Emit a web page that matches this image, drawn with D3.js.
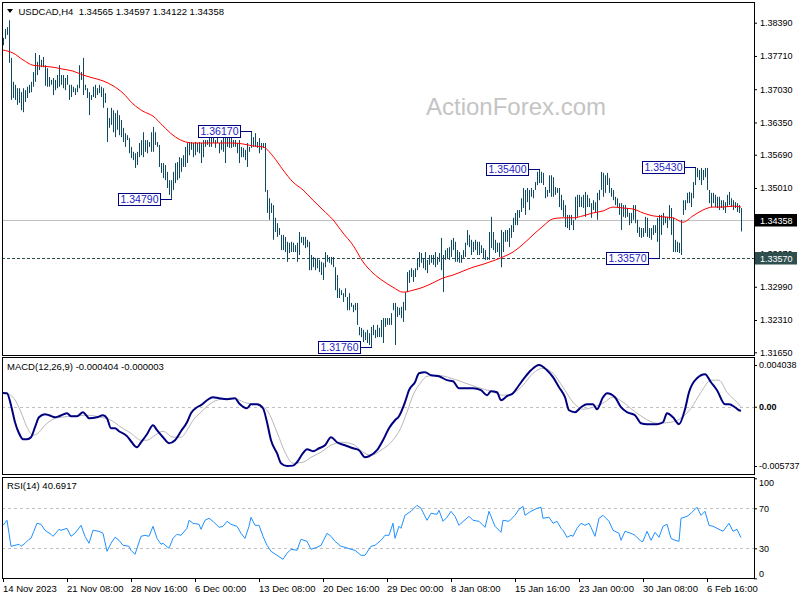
<!DOCTYPE html>
<html><head><meta charset="utf-8">
<script src="https://cdn.jsdelivr.net/npm/d3@7/dist/d3.min.js"></script>
<style>body{margin:0;background:#fff}svg{display:block}text{font-family:"Liberation Sans",Arial,sans-serif}</style>
</head><body><svg id="c" width="800" height="600"></svg>
<script>
// ---------------- data ----------------
const symbolTitle = "USDCAD,H4";
const lastOHLC = ["1.34565", "1.34597", "1.34122", "1.34358"];
const pipBase = 1.3; // bar prices stored as pips above 1.30000
// H4 bar highs / lows, one per bar from 14 Nov 2023 00:00
const highPips = [
808,826,830,844,767,718,712,705,705,697,
705,701,708,712,718,738,777,759,773,763,
769,752,746,728,722,726,722,732,752,732,
732,726,732,712,712,708,705,712,752,738,
767,712,705,697,691,708,712,705,712,708,
705,695,665,644,665,660,654,660,650,640,
624,613,609,603,585,575,572,575,593,599,
615,599,599,595,615,626,615,595,589,552,
552,548,534,517,517,534,552,554,564,562,
568,585,593,595,595,593,595,593,595,593,
599,599,599,609,613,615,599,609,593,599,
605,615,605,605,613,599,599,593,599,585,
583,579,593,585,617,605,613,595,603,593,
593,593,497,480,470,466,440,429,419,405,
405,401,391,389,391,389,384,389,411,401,
401,401,395,391,364,360,358,358,354,350,
348,370,364,360,360,360,339,323,296,292,
286,296,278,286,266,262,266,266,217,215,
211,206,211,204,217,221,211,221,215,231,
235,235,235,235,245,266,266,258,256,258,
268,288,329,333,337,333,337,358,370,368,
358,370,354,364,364,364,370,360,368,399,
364,374,378,380,395,399,391,374,370,364,
374,389,415,405,395,391,395,391,391,384,
378,374,360,411,442,411,395,389,389,415,
411,415,415,419,425,440,450,456,456,480,
501,497,501,497,501,497,513,534,540,534,
532,503,497,527,527,523,503,501,501,487,
476,466,446,446,446,436,483,487,487,483,
487,493,487,480,470,476,472,491,497,534,
532,527,532,521,501,497,483,480,470,470,
466,466,460,450,450,466,466,436,421,419,
419,442,440,419,419,425,425,440,446,446,
450,442,442,466,460,440,395,391,389,436,
476,476,491,493,491,513,543,542,538,542,
538,542,542,497,491,491,487,483,483,476,
476,472,487,493,480,476,472,470,466,460];
const lowPips = [
793,806,814,757,681,685,681,671,675,660,
656,677,685,695,697,708,718,732,742,748,
748,710,708,708,712,691,701,705,708,712,
705,701,712,681,687,697,691,697,705,722,
691,701,685,650,681,687,685,691,695,687,
665,675,595,624,630,615,605,620,609,605,
595,585,599,572,562,558,542,548,564,568,
564,575,572,585,575,575,589,585,544,532,
521,517,501,487,479,497,511,517,521,534,
544,544,552,568,579,564,568,575,572,552,
564,585,589,585,585,593,583,593,572,579,
575,552,585,583,583,585,585,572,552,564,
564,558,544,575,583,585,585,583,572,579,
583,493,450,436,450,395,411,401,405,374,
374,370,350,368,370,370,370,350,364,389,
384,378,380,333,333,339,333,337,329,323,
313,339,350,348,344,339,292,276,276,282,
268,278,251,251,258,247,251,221,200,196,
186,190,184,180,176,200,194,196,196,196,
184,217,221,221,221,251,180,237,241,235,
227,251,288,307,319,309,319,333,339,348,
337,333,327,344,348,344,339,344,350,333,
288,354,358,354,360,374,350,350,348,348,
358,360,384,380,364,370,374,364,364,368,
358,354,354,354,378,374,368,370,360,339,
370,391,391,380,399,411,425,425,440,452,
460,446,472,456,483,480,497,507,511,511,
507,480,483,491,483,483,487,491,462,456,
442,421,419,415,425,415,436,442,462,462,
460,442,462,462,440,456,450,436,476,497,
483,491,507,491,483,476,466,462,446,415,
442,440,442,425,429,436,429,409,401,399,
401,409,401,399,395,405,409,391,357,405,
425,429,419,436,405,370,370,370,368,364,
446,456,470,470,462,480,507,523,517,507,
517,523,497,470,462,470,462,460,456,460,
456,450,462,466,462,456,460,452,450,412];
// moving average (red), pips above 1.30000
const maBars = [0,5,10,15,20,25,30,35,40,45,50,55,60,65,70,75,80,85,90,95,100,105,110,115,120,125,130,135,140,145,150,155,160,165,170,175,180,185,190,195,200,205,210,215,220,225,230,235,240,245,250,255,260,265,270,275,280,285,290,295,300,305,310,315,320,325,330,335,340,345,350,355,360,365,369];
const maPips = [
783,777,763,752,750,748,744,740,732,726,
720,710,695,673,658,648,628,609,597,593,
593,593,593,593,591,587,585,566,538,513,
497,476,456,436,409,384,350,327,311,298,
288,292,298,307,317,323,331,339,345,352,
360,370,386,405,423,438,440,440,444,450,
454,462,460,458,450,444,442,440,431,444,
456,462,462,464,462];
// MACD(12,26,9) main line
const macdBars = [0,2,4,6,8,10,12,14,16,18,21,23,26,28,32,34,37,40,42,43,47,50,52,54,56,58,62,64,67,69,72,75,77,80,83,86,89,92,94,97,99,102,105,108,112,116,118,122,124,127,130,132,134,137,139,142,145,147,150,152,155,158,161,164,167,171,175,178,181,183,187,190,193,196,198,201,203,206,208,211,214,218,222,225,228,232,235,239,242,244,247,249,252,255,258,261,264,268,272,275,278,281,283,286,289,292,295,297,300,302,306,309,312,316,319,322,327,330,332,335,338,341,343,347,351,354,357,361,363,366,368,369];
const macdMain = [
0.00134,0.00131,0.00015,-0.0015,-0.00257,-0.00315,-0.00315,-0.00295,-0.00198,-0.00102,
-0.00073,-0.00082,-0.00102,-0.00092,-0.00063,-0.00092,-0.00092,-0.00053,-0.00092,-0.00111,
-0.00102,-0.00082,-0.00111,-0.00208,-0.00208,-0.00237,-0.00285,-0.00334,-0.00392,-0.00344,
-0.00266,-0.00179,-0.00227,-0.00295,-0.00353,-0.00324,-0.00237,-0.0015,-0.00063,-0.00005,
0.00015,0.00063,0.00092,0.00082,0.00073,0.00082,0.00034,-0.00015,0.00024,0.00024,
-0.00015,-0.0015,-0.00324,-0.0045,-0.00547,-0.00574,-0.0057,-0.00537,-0.0045,-0.00411,
-0.00431,-0.00402,-0.00373,-0.00295,-0.00344,-0.00373,-0.00402,-0.00421,-0.00489,-0.00479,
-0.00421,-0.00324,-0.00208,-0.00131,-0.00092,0.00044,0.0016,0.00237,0.00324,0.00334,
0.00305,0.00295,0.00257,0.00247,0.00179,0.00179,0.00179,0.0016,0.00111,0.0015,
0.0014,0.00063,0.00102,0.00131,0.00208,0.00286,0.00353,0.00404,0.00353,0.00286,
0.00189,0.00092,-0.00034,-0.00053,-0.00005,0.00024,0.00024,-0.00024,0.00092,0.00131,
0.00092,-0.00005,-0.00053,-0.00082,-0.0016,-0.00169,-0.00169,-0.0015,-0.00063,-0.00102,
-0.00169,-0.00024,0.0014,0.00276,0.00315,0.00237,0.0016,0.00024,0.00024,-0.00005,
-0.00034,-0.000404];
// MACD signal line
const signalBars = [0,5,9,12,15,18,21,25,29,35,42,49,54,59,64,69,72,76,80,85,89,92,95,99,104,109,115,122,127,132,137,141,145,150,154,159,164,169,175,180,184,189,194,199,202,205,209,212,217,224,230,237,244,250,255,260,265,270,275,280,285,290,295,300,305,310,315,320,327,334,339,344,349,354,358,362,367,369];
const macdSignal = [
0.0014,0.00092,-0.00053,-0.00198,-0.00276,-0.00247,-0.00179,-0.00121,-0.00102,-0.00092,
-0.00082,-0.00102,-0.00131,-0.00198,-0.00257,-0.00324,-0.00324,-0.00276,-0.00237,-0.00295,
-0.00295,-0.00227,-0.00131,-0.00053,0.00034,0.00073,0.00082,0.00034,0.00024,-0.00034,
-0.00247,-0.0044,-0.00547,-0.00537,-0.00489,-0.0044,-0.00373,-0.00344,-0.00363,-0.0044,
-0.0047,-0.00421,-0.00344,-0.002,-0.00053,0.00111,0.00237,0.00295,0.00305,0.00276,
0.00237,0.00189,0.0015,0.00111,0.00131,0.00208,0.00324,0.00373,0.00324,0.00189,
0.00044,-0.00024,-0.00005,0.00034,0.00092,0.00044,-0.00034,-0.00102,-0.0016,-0.0015,
-0.00111,-0.00015,0.0014,0.00257,0.00257,0.0014,0.00044,-0.000003];
// RSI(14)
const rsiBars = [0,2,3,4,6,8,9,11,13,14,17,19,21,24,25,28,29,32,34,36,39,41,43,45,48,50,52,54,56,58,60,63,64,66,69,71,73,75,77,79,80,83,85,87,89,92,93,95,98,99,101,103,105,108,110,112,114,117,119,121,123,124,126,128,130,132,134,137,140,142,144,147,149,152,154,157,159,162,164,166,169,171,174,176,179,181,184,186,189,191,193,195,196,198,199,201,204,207,209,212,214,217,218,220,222,224,226,228,229,233,235,238,241,243,246,249,250,253,256,258,260,261,264,267,269,270,273,275,277,279,280,282,284,285,287,289,291,293,294,296,298,300,303,305,308,309,311,314,316,319,320,322,324,326,328,330,332,334,336,338,339,342,344,347,349,351,353,355,358,360,363,365,367,369];
const rsiVals = [
53,58,45,32,33,34,32,35,39,40,55,54,48,44,42,49,48,50,42,45,
53,42,35,48,47,45,27,35,41,38,33,32,28,24,42,43,42,52,40,34,
35,30,40,44,43,50,58,55,54,49,58,60,57,51,52,57,54,52,45,40,
52,61,53,53,42,33,27,23,19,25,29,28,39,37,29,31,33,45,42,37,
32,31,29,28,23,23,32,33,38,43,43,55,40,52,50,63,67,73,70,58,
65,64,68,57,61,67,62,53,55,62,58,57,51,67,52,46,58,57,63,69,
72,63,67,70,71,60,61,55,57,50,48,41,43,42,50,55,53,55,51,42,
60,63,57,48,45,38,47,45,43,37,37,47,38,46,41,52,54,40,38,37,
60,62,65,71,63,67,53,52,49,47,55,47,49,40.69];
const priceTicks = [1.3839,1.3771,1.3703,1.3635,1.3569,1.3501,1.3433,1.3367,1.3299,1.3231,1.3165];
const macdTicks = [0.004038, 0, -0.005737];
const rsiTicks = [100, 70, 30, 0];
const rsiLevels = [70, 30];
const dateLabels = ["14 Nov 2023","21 Nov 08:00","28 Nov 16:00","6 Dec 00:00","13 Dec 08:00","20 Dec 16:00","29 Dec 00:00","8 Jan 08:00","15 Jan 16:00","23 Jan 00:00","30 Jan 08:00","6 Feb 16:00"];
const dateLabelBars = [0,32,64,96,128,160,192,224,256,288,320,352];
const annotations = [
  {price:1.3617, bar:124, label:"1.36170"},
  {price:1.3479, bar:84,  label:"1.34790"},
  {price:1.3176, bar:184, label:"1.31760"},
  {price:1.3540, bar:268, label:"1.35400"},
  {price:1.3543, bar:346, label:"1.35430"},
  {price:1.3357, bar:328, label:"1.33570"}];
const lastPrice = 1.34358, supportLevel = 1.3357;
const macdLabel = "MACD(12,26,9) -0.000404 -0.000003";
const rsiLabel = "RSI(14) 40.6917";
const watermark = "ActionForex.com";

// ---------------- drawing ----------------
const svg = d3.select("#c");
const nBars = highPips.length;
const toPrice = p => pipBase + p / 10000;
const L = 2, R = 754;
const main = {t:2, b:355}, mp = {t:357, b:474}, rp = {t:477, b:578};
const x = d3.scaleLinear().domain([0, nBars - 1]).range([3, 3 + 2 * (nBars - 1)]);
const yP = d3.scaleLinear().domain([1.3839, 1.3165]).range([22.7, 352.3]);
const yM = d3.scaleLinear().domain([0.004038, -0.005737]).range([365, 466]);
const yR = d3.scaleLinear().domain([0, 100]).range([578.3, 478.3]);
const FONT = "'Liberation Sans', Arial, sans-serif";
const AX = 9; // right-axis font size

const defs = svg.append("defs");
[["cm", main], ["cmacd", mp], ["crsi", rp]].forEach(([id, p]) => {
  defs.append("clipPath").attr("id", id).append("rect")
    .attr("x", L + 1).attr("y", p.t + 1).attr("width", R - L - 1).attr("height", p.b - p.t - 1);
});

// watermark
svg.append("text").attr("x", 426).attr("y", 115).attr("font-size", 24)
  .attr("fill", "#c4c4c4").text(watermark);

// ---- main panel
const gm = svg.append("g").attr("clip-path", "url(#cm)");
gm.append("line").attr("x1", L).attr("x2", R)
  .attr("y1", Math.round(yP(lastPrice)) + 0.5).attr("y2", Math.round(yP(lastPrice)) + 0.5)
  .attr("stroke", "#c0c0c0");
gm.append("line").attr("x1", L).attr("x2", R)
  .attr("y1", Math.round(yP(supportLevel)) + 0.5).attr("y2", Math.round(yP(supportLevel)) + 0.5)
  .attr("stroke", "#2f4f4f").attr("stroke-dasharray", "3,2");
gm.append("g").selectAll("line").data(d3.range(nBars)).join("line")
  .attr("x1", i => Math.round(x(i)) + 0.5).attr("x2", i => Math.round(x(i)) + 0.5)
  .attr("y1", i => yP(toPrice(highPips[i]))).attr("y2", i => yP(toPrice(lowPips[i])))
  .attr("stroke", "#0e4a62").attr("stroke-width", 1);
gm.append("path").datum(maBars.map((b, k) => [b, maPips[k]]))
  .attr("fill", "none").attr("stroke", "#ff0000").attr("stroke-width", 1)
  .attr("d", d3.line().x(d => x(d[0])).y(d => yP(toPrice(d[1]))).curve(d3.curveMonotoneX));

// annotations
annotations.forEach(a => {
  const bx = Math.round(x(a.bar)), by = Math.round(yP(a.price));
  gm.append("line").attr("x1", bx - 10).attr("x2", bx + 1).attr("y1", by + 0.5).attr("y2", by + 0.5)
    .attr("stroke", "#000080");
  gm.append("rect").attr("x", bx - 52.5).attr("y", by - 5.5).attr("width", 42).attr("height", 12)
    .attr("fill", "#fff").attr("stroke", "#000080");
  gm.append("text").attr("x", bx - 31.5).attr("y", by + 4.2).attr("text-anchor", "middle")
    .attr("font-size", 10.5).attr("fill", "#1c1cc8").text(a.label);
});

// price axis (the 1.34330 / 1.33670 labels sit behind the price boxes, as in MT4)
const axP = d3.axisRight(yP).tickValues(priceTicks).tickSize(3).tickPadding(3)
  .tickFormat(d3.format(".5f"));
const gAxP = svg.append("g").attr("transform", `translate(${R},0)`).call(axP);
gAxP.select(".domain").remove();
gAxP.selectAll("text").attr("font-size", AX).attr("font-family", FONT).attr("fill", "#000");
gAxP.selectAll("line").attr("stroke", "#000");
[[lastPrice, "#000000", "1.34358"], [supportLevel, "#2f4f4f", "1.33570"]].forEach(([p, c, t]) => {
  const yy = Math.round(yP(p));
  svg.append("rect").attr("x", R + 1).attr("y", yy - 6).attr("width", 42).attr("height", 12.5).attr("fill", c);
  svg.append("text").attr("x", R + 6).attr("y", yy + 3.5).attr("font-size", AX).attr("fill", "#fff").text(t);
});

// title
svg.append("path").attr("d", "M7,9 L13,9 L10,13 Z").attr("fill", "#000");
svg.append("text").attr("x", 18.5).attr("y", 14.5).attr("font-size", 9.5).attr("fill", "#000")
  .style("white-space", "pre").text(symbolTitle + "  " + lastOHLC.join(" "));

// ---- MACD panel
const gM = svg.append("g").attr("clip-path", "url(#cmacd)");
gM.append("line").attr("x1", L).attr("x2", R).attr("y1", Math.round(yM(0)) + 0.5).attr("y2", Math.round(yM(0)) + 0.5)
  .attr("stroke", "#c0c0c0").attr("stroke-dasharray", "3,3");
gM.append("path").datum(signalBars.map((b, k) => [b, macdSignal[k]]))
  .attr("fill", "none").attr("stroke", "#b8b8b8").attr("stroke-width", 1)
  .attr("d", d3.line().x(d => x(d[0])).y(d => yM(d[1])).curve(d3.curveMonotoneX));
gM.append("path").datum(macdBars.map((b, k) => [b, macdMain[k]]))
  .attr("fill", "none").attr("stroke", "#000080").attr("stroke-width", 2)
  .attr("d", d3.line().x(d => x(d[0])).y(d => yM(d[1])).curve(d3.curveMonotoneX));
svg.append("text").attr("x", 7).attr("y", 370).attr("font-size", 9.5).attr("fill", "#000").text(macdLabel);
const axM = d3.axisRight(yM).tickValues(macdTicks).tickSize(3).tickPadding(2)
  .tickFormat(d => d === 0 ? "0.00" : d3.format(".6f")(d).replace("\u2212", "-"));
const gAxM = svg.append("g").attr("transform", `translate(${R},0)`).call(axM);
gAxM.select(".domain").remove();
gAxM.selectAll("text").attr("font-size", AX).attr("font-family", FONT).attr("fill", "#000")
  .attr("font-weight", d => d === 0 ? "bold" : "normal");
gAxM.selectAll("line").attr("stroke", "#000");

// ---- RSI panel
const gR = svg.append("g").attr("clip-path", "url(#crsi)");
gR.selectAll("line.lvl").data(rsiLevels).join("line").attr("class", "lvl")
  .attr("x1", L).attr("x2", R).attr("y1", d => Math.round(yR(d)) + 0.5).attr("y2", d => Math.round(yR(d)) + 0.5)
  .attr("stroke", "#c0c0c0").attr("stroke-dasharray", "3,3");
gR.append("path").datum(rsiBars.map((b, k) => [b, rsiVals[k]]))
  .attr("fill", "none").attr("stroke", "#1e90ff").attr("stroke-width", 1)
  .attr("d", d3.line().x(d => x(d[0])).y(d => yR(d[1])));
svg.append("text").attr("x", 7).attr("y", 488.5).attr("font-size", 9.5).attr("fill", "#000").text(rsiLabel);
const axR = d3.axisRight(yR).tickValues(rsiTicks).tickSize(3).tickPadding(2).tickFormat(d3.format("d"));
const gAxR = svg.append("g").attr("transform", `translate(${R},0)`).call(axR);
gAxR.select(".domain").remove();
gAxR.selectAll("text").attr("font-size", AX).attr("font-family", FONT).attr("fill", "#000")
  .attr("dy", d => d === 100 ? "0.85em" : d === 0 ? "-0.15em" : "0.32em");
gAxR.selectAll("line").attr("stroke", "#000");

// ---- panel frames
[main, mp, rp].forEach(p => {
  svg.append("rect").attr("x", L + 0.5).attr("y", p.t + 0.5).attr("width", R - L).attr("height", p.b - p.t)
    .attr("fill", "none").attr("stroke", "#000");
});

// ---- time axis
const gT = svg.append("g");
dateLabelBars.forEach((b, k) => {
  const xx = Math.round(x(b)) + 0.5;
  gT.append("line").attr("x1", xx).attr("x2", xx).attr("y1", rp.b).attr("y2", rp.b + 4).attr("stroke", "#000");
  gT.append("text").attr("x", xx - 0.5).attr("y", 591.5).attr("font-size", 9.5).attr("fill", "#000").text(dateLabels[k]);
});
</script></body></html>
